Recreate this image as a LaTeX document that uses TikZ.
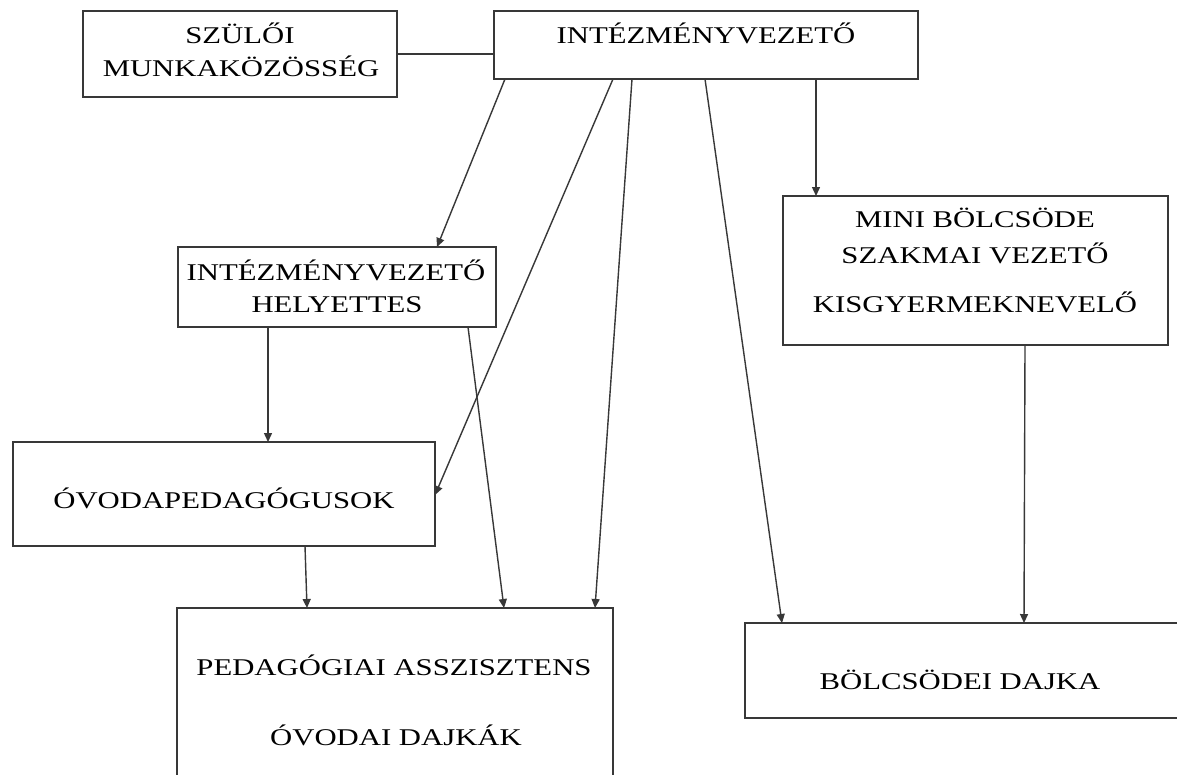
\documentclass[tikz,border=0pt]{standalone}
\usepackage{fontspec}
\setmainfont{Liberation Serif}[FakeStretch=1.28]
\usetikzlibrary{arrows.meta,calc}
\begin{document}
\begin{tikzpicture}[x=1pt,y=-1pt,
  box/.style={draw=black!78, line width=1.5pt, inner sep=0pt, outer sep=0pt},
  lbl/.style={anchor=base, inner sep=0pt, font=\fontsize{24}{28}\selectfont, text=black},
  conn/.style={draw=black!78, line width=1.4pt},
  arr/.style={conn, -{Triangle[width=8pt,length=9pt]}}]
\useasboundingbox (0,0) rectangle (1177,774);
\clip (0,0) rectangle (1177,774);
\fill[white] (0,0) rectangle (1177,774);

% boxes
\node[box, minimum width=314pt, minimum height=86pt] (sz) at (240,54) {};
\node[box, minimum width=424pt, minimum height=68pt] (iv) at (706,45) {};
\node[box, minimum width=318pt, minimum height=80pt] (hely) at (337,287) {};
\node[box, minimum width=422pt, minimum height=104pt] (ovp) at (224,494) {};
\node[box, minimum width=385pt, minimum height=149pt] (mini) at (975.5,270.5) {};
\node[box, minimum width=436pt, minimum height=200pt] (ped) at (395,708) {};
\node[box, minimum width=440pt, minimum height=95pt] (bd) at (965,670.5) {};

% texts
\node[lbl] (t1) at (240,43) {SZÜLŐI};
\node[lbl] (t2) at (241,76) {MUNKAKÖZÖSSÉG};
\node[lbl] (t3) at (706,43) {INTÉZMÉNYVEZETŐ};
\node[lbl] (t4) at (336,280) {INTÉZMÉNYVEZETŐ};
\node[lbl] (t5) at (337,312) {HELYETTES};
\node[lbl] (t6) at (224,508) {ÓVODAPEDAGÓGUSOK};
\node[lbl] (t7) at (975,227) {MINI BÖLCSÖDE};
\node[lbl] (t8) at (975,263) {SZAKMAI VEZETŐ};
\node[lbl] (t9) at (975,312) {KISGYERMEKNEVELŐ};
\node[lbl] (t10) at (394,675) {PEDAGÓGIAI ASSZISZTENS};
\node[lbl] (t11) at (396,745) {ÓVODAI DAJKÁK};
\node[lbl] (t12) at (960,689) {BÖLCSÖDEI DAJKA};

% connectors
\draw[conn] (sz.east) -- (sz.east -| iv.west);
\draw[arr] ($(iv.south west)+(11,0)$) -- ($(hely.north west)+(259,0)$);
\draw[arr] ($(iv.south west)+(119,0)$) -- ($(ovp.north east)+(0,53)$);
\draw[arr] ($(iv.south west)+(138,0)$) -- ($(ped.north west)+(418,0)$);
\draw[arr] ($(iv.south west)+(211,0)$) -- ($(bd.north west)+(37,0)$);
\draw[arr] ($(iv.south west)+(322,0)$) -- ($(mini.north west)+(33,0)$);
\draw[arr] ($(hely.south west)+(90,0)$) -- ($(ovp.north west)+(255,0)$);
\draw[arr] ($(hely.south west)+(290,0)$) -- ($(ped.north west)+(327,0)$);
\draw[arr] ($(ovp.south west)+(292,0)$) -- ($(ped.north west)+(130,0)$);
\draw[arr] ($(mini.south west)+(242,0)$) -- ($(bd.north west)+(279,0)$);
\end{tikzpicture}
\end{document}
